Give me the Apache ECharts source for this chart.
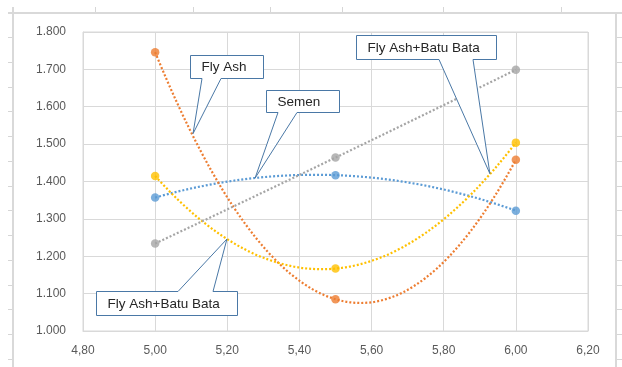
<!DOCTYPE html>
<html>
<head>
<meta charset="utf-8">
<script src="https://cdn.jsdelivr.net/npm/echarts@6/dist/echarts.min.js"></script>
<style>
  html, body { margin: 0; padding: 0; background: #ffffff; }
  #chart { width: 622px; height: 367px; }
</style>
</head>
<body>
<div id="chart"></div>
<script>
// ---- data ----
const xValues = [5.0, 5.5, 6.0];
const semen = [1.357, 1.417, 1.322];
const flyAsh = [1.746, 1.085, 1.458];
const flyAshBatuBata = [1.415, 1.167, 1.504];
const series4 = [1.234, 1.464, 1.699];

const xTickLabels = ['4,80', '5,00', '5,20', '5,40', '5,60', '5,80', '6,00', '6,20'];
const yTickLabels = ['1.000', '1.100', '1.200', '1.300', '1.400', '1.500', '1.600', '1.700', '1.800'];

// callout texts and the (x, y) point on the curve each one points at
const calloutTexts = ['Fly Ash', 'Semen', 'Fly Ash+Batu Bata', 'Fly Ash+Batu Bata'];
const calloutTips = [[5.105, 1.528], [5.277, 1.409], [5.928, 1.421], [5.199, 1.246]];

// ---- styling / layout ----
const COLORS = { semen: '#5B9BD5', flyAsh: '#ED7D31', gray: '#A5A5A5', fabb: '#FFC000' };
const GRID_COLOR = '#d9d9d9';
const SHEET_LINE = '#d6d6d6';
const CALLOUT_STROKE = '#4a78a6';

// box geometry for each callout: left, top, right, bottom, wedge base (two x's), edge the wedge leaves from
const calloutBoxes = [
  { l: 190.5, t: 55.5, r: 263.5, b: 78.5, w1: 202, w2: 221, edge: 'bottom' },
  { l: 266.5, t: 90.5, r: 339.5, b: 112.5, w1: 278, w2: 297, edge: 'bottom' },
  { l: 356.5, t: 35.5, r: 496.5, b: 59.5, w1: 439, w2: 473, edge: 'bottom' },
  { l: 96.5, t: 291.5, r: 237.5, b: 315.5, w1: 178, w2: 213, edge: 'top' }
];

const chart = echarts.init(document.getElementById('chart'), null, { renderer: 'canvas' });

// a second-order trend curve through three evenly spaced points, drawn as one quadratic Bezier
function trendSeries(name, values, color) {
  return {
    type: 'custom',
    name: name,
    coordinateSystem: 'cartesian2d',
    silent: true,
    z: 2,
    data: xValues.map((x, i) => [x, values[i]]),
    renderItem: function (params, api) {
      if (params.dataIndex !== 0) return null;
      const p = xValues.map((x, i) => api.coord([x, values[i]]));
      const cpx = 2 * p[1][0] - (p[0][0] + p[2][0]) / 2;
      const cpy = 2 * p[1][1] - (p[0][1] + p[2][1]) / 2;
      return {
        type: 'bezierCurve',
        shape: { x1: p[0][0], y1: p[0][1], x2: p[2][0], y2: p[2][1], cpx1: cpx, cpy1: cpy },
        style: { stroke: color, fill: null, lineWidth: 2.2, lineDash: [2, 2] }
      };
    }
  };
}

function markerSeries(name, values, color) {
  return {
    type: 'scatter',
    name: name,
    z: 3,
    symbol: 'circle',
    symbolSize: 8.5,
    itemStyle: { color: color },
    data: xValues.map((x, i) => [x, values[i]])
  };
}

const axisLabelStyle = { color: '#595959', fontSize: 12, fontFamily: 'Liberation Sans, Arial, sans-serif' };

chart.setOption({
  animation: false,
  backgroundColor: '#ffffff',
  grid: {
    left: 83, right: 34, top: 32, bottom: 36,
    containLabel: false,
    outerBoundsMode: 'none',
    show: true, borderColor: GRID_COLOR, borderWidth: 1
  },
  xAxis: {
    type: 'value', min: 4.8, max: 6.2, interval: 0.2,
    axisLine: { show: true, lineStyle: { color: GRID_COLOR } },
    axisTick: { show: false },
    splitLine: { show: true, lineStyle: { color: GRID_COLOR, width: 1 } },
    axisLabel: Object.assign({ margin: 14, formatter: (v, i) => xTickLabels[i] }, axisLabelStyle)
  },
  yAxis: {
    type: 'value', min: 1.0, max: 1.8, interval: 0.1,
    axisLine: { show: true, lineStyle: { color: GRID_COLOR } },
    axisTick: { show: false },
    splitLine: { show: true, lineStyle: { color: GRID_COLOR, width: 1 } },
    axisLabel: Object.assign({ margin: 17, formatter: (v, i) => yTickLabels[i] }, axisLabelStyle)
  },
  series: [
    trendSeries('Semen', semen, COLORS.semen),
    trendSeries('Fly Ash', flyAsh, COLORS.flyAsh),
    trendSeries('Fly Ash+Batu Bata', flyAshBatuBata, COLORS.fabb),
    trendSeries('Seri 4', series4, COLORS.gray),
    markerSeries('Semen', semen, COLORS.semen),
    markerSeries('Fly Ash', flyAsh, COLORS.flyAsh),
    markerSeries('Fly Ash+Batu Bata', flyAshBatuBata, COLORS.fabb),
    markerSeries('Seri 4', series4, COLORS.gray)
  ]
});

// ---- worksheet lines around the chart frame and the frame itself ----
const sheet = [];
function addLine(x1, y1, x2, y2, color, w) {
  sheet.push({ type: 'line', silent: true, z: -10, shape: { x1, y1, x2, y2 }, style: { stroke: color, lineWidth: w } });
}
const rowYs = [];
for (let y = 37; y < 367; y += 24.75) rowYs.push(Math.round(y) + 0.5);
rowYs.forEach(y => { addLine(8, y, 13, y, SHEET_LINE, 1); addLine(616, y, 622, y, SHEET_LINE, 1); });
[95, 193, 270, 342, 443, 561].forEach(x => addLine(x + 0.5, 7, x + 0.5, 13, SHEET_LINE, 1));
addLine(8, 13, 622, 13, GRID_COLOR, 2);
addLine(13, 7, 13, 367, GRID_COLOR, 2);
addLine(616, 13, 616, 367, GRID_COLOR, 2);

// ---- callouts ----
const callouts = [];
calloutBoxes.forEach((bx, i) => {
  const tip = chart.convertToPixel({ gridIndex: 0 }, calloutTips[i]);
  let pts;
  if (bx.edge === 'bottom') {
    pts = [[bx.l, bx.t], [bx.r, bx.t], [bx.r, bx.b], [bx.w2, bx.b], tip, [bx.w1, bx.b], [bx.l, bx.b]];
  } else {
    pts = [[bx.l, bx.t], [bx.w1, bx.t], tip, [bx.w2, bx.t], [bx.r, bx.t], [bx.r, bx.b], [bx.l, bx.b]];
  }
  callouts.push({
    type: 'polygon', z: 20, silent: true,
    shape: { points: pts },
    style: { fill: '#ffffff', stroke: CALLOUT_STROKE, lineWidth: 1 }
  });
  callouts.push({
    type: 'text', z: 21, silent: true,
    x: bx.l + 11, y: (bx.t + bx.b) / 2 + 0.5,
    style: {
      text: calloutTexts[i], fill: '#262626',
      font: '13.5px "Liberation Sans", Arial, sans-serif',
      textAlign: 'left', textVerticalAlign: 'middle'
    }
  });
});

chart.setOption({ graphic: sheet.concat(callouts) });
</script>
</body>
</html>
